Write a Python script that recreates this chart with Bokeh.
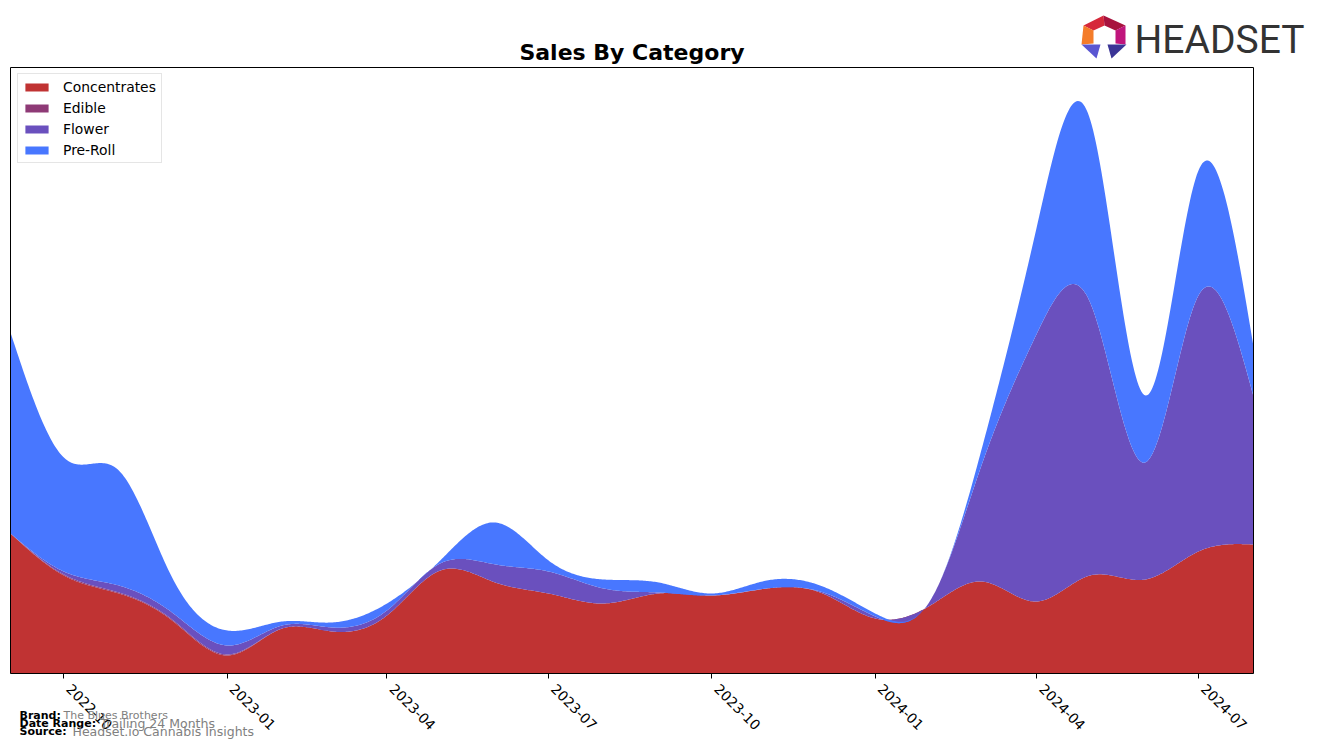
import numpy as np
import pandas as pd
from bokeh.plotting import figure
from bokeh.models import (ColumnDataSource, Range1d, Label, FixedTicker, Legend,
                          LegendItem, PolyAnnotation, LinearAxis)
from bokeh.embed import file_html
from bokeh.resources import INLINE

# ---------------- data (monthly) ----------------
months = ["2022-09", "2022-10", "2022-11", "2022-12", "2023-01", "2023-02",
          "2023-03", "2023-04", "2023-05", "2023-06", "2023-07", "2023-08",
          "2023-09", "2023-10", "2023-11", "2023-12", "2024-01", "2024-02",
          "2024-03", "2024-04", "2024-05", "2024-06", "2024-07", "2024-08"]
concentrates = [140, 98, 80, 53, 18, 45, 42, 58, 103, 91, 80, 70,
                80, 78, 85, 81, 55, 68, 92, 72, 98, 94, 122, 129]
edible = [0, 1, 1, 1, 1, 0, 0, 0, 0, 0, 0, 0,
          0, 0, 0, 0, 0, 0, 0, 0, 0, 0, 0, 0]
flower = [0, 3, 7, 7, 9, 3, 4, 5, 7, 18, 22, 15,
          1, 0, 0, 1, 2, 5, 117, 268, 273, 117, 256, 148]
pre_roll = [201, 114, 115, 35, 15, 4, 5, 7, 3, 42, 11, 9,
            10, 2, 8, 6, 3, 0, 16, 107, 183, 67, 125, 50]
categories = ["Concentrates", "Edible", "Flower", "Pre-Roll"]
colors = ["#c03333", "#8e3a76", "#6a50be", "#4877ff"]
tick_labels = ["2022-10", "2023-01", "2023-04", "2023-07",
               "2023-10", "2024-01", "2024-04", "2024-07"]

# ---------------- smoothing (natural cubic spline) ----------------
def spline(x, y, xs):
    x = np.asarray(x, float); y = np.asarray(y, float)
    n = len(x); h = np.diff(x)
    A = np.zeros((n, n)); b = np.zeros(n)
    A[0, 0] = 1.0
    A[-1, -1] = 1.0
    for i in range(1, n - 1):
        A[i, i - 1] = h[i - 1]; A[i, i] = 2 * (h[i - 1] + h[i]); A[i, i + 1] = h[i]
        b[i] = 6 * ((y[i + 1] - y[i]) / h[i] - (y[i] - y[i - 1]) / h[i - 1])
    M = np.linalg.solve(A, b)
    idx = np.clip(np.searchsorted(x, xs) - 1, 0, n - 2)
    x0 = x[idx]; x1 = x[idx + 1]; hh = x1 - x0
    return (M[idx] * (x1 - xs) ** 3 / (6 * hh) + M[idx + 1] * (xs - x0) ** 3 / (6 * hh)
            + (y[idx] / hh - M[idx] * hh / 6) * (x1 - xs)
            + (y[idx + 1] / hh - M[idx + 1] * hh / 6) * (xs - x0))

dates = pd.to_datetime([m + "-01" for m in months])
xms = dates.astype("int64").to_numpy() / 1e6
xdays = xms / 86400000.0
xs_days = np.linspace(xdays[0], xdays[-1], 900)
xs_ms = xs_days * 86400000.0

series = [concentrates, edible, flower, pre_roll]
smooth = [spline(xdays, s, xs_days) for s in series]
cum = np.cumsum(np.vstack(smooth), axis=0)
lower = [np.zeros_like(xs_days)] + [cum[i] for i in range(3)]

# ---------------- layout constants (page pixels) ----------------
W, H = 1317, 749
PL, PR, PT, PB = 10, 1253, 67, 673      # plot-area box
YTOP = 606.0                             # value at the top of the plot area
x0, x1 = xms[0], xms[-1]
kx = (PR - PL) / (x1 - x0)
ky = (PB - PT) / YTOP
LABEL_SHIFT = 5                          # px, tick labels sit right of their tick

p = figure(width=W, height=H, output_backend="svg", toolbar_location=None,
           x_axis_location=None, y_axis_location=None,
           x_range=Range1d(x0 - PL / kx, x1 + (W - PR) / kx),
           y_range=Range1d(-(H - PB) / ky, YTOP + PT / ky),
           min_border=0, min_border_left=0, min_border_right=0,
           min_border_top=0, min_border_bottom=0)
p.extra_x_ranges = {"lab": Range1d(x0 - (PL + LABEL_SHIFT) / kx,
                                   x1 + (W - PR - LABEL_SHIFT) / kx)}
p.grid.visible = False
p.outline_line_color = None
p.background_fill_color = "white"
p.border_fill_color = "white"

# areas
items = []
for i, name in enumerate(categories):
    src = ColumnDataSource(dict(x=xs_ms, y1=lower[i], y2=cum[i]))
    r = p.varea(x="x", y1="y1", y2="y2", source=src, fill_color=colors[i], fill_alpha=1.0)
    items.append(LegendItem(label=name, renderers=[r]))

# bottom axis: line + ticks (its labels are not drawn)
tick_ms = [pd.Timestamp(t + "-01").value / 1e6 for t in tick_labels]
xaxis = LinearAxis(ticker=FixedTicker(ticks=tick_ms), fixed_location=0,
                   bounds=(x0, x1))
xaxis.major_label_text_color = None
xaxis.major_label_text_alpha = 0
xaxis.minor_tick_line_color = None
xaxis.major_tick_out = 5
xaxis.major_tick_in = 0
xaxis.major_tick_line_color = "black"
xaxis.axis_line_color = "black"
p.add_layout(xaxis, "below")

# bottom axis: tick labels
laxis = LinearAxis(ticker=FixedTicker(ticks=tick_ms), fixed_location=0,
                   x_range_name="lab")
laxis.major_label_overrides = {t: l for t, l in zip(tick_ms, tick_labels)}
laxis.major_label_orientation = -np.pi / 4
laxis.major_label_text_font = "DejaVu Sans"
laxis.major_label_text_font_size = "13.9px"
laxis.major_label_text_color = "black"
laxis.major_label_standoff = 8
laxis.minor_tick_line_color = None
laxis.major_tick_line_color = None
laxis.major_tick_out = 5
laxis.major_tick_in = 0
laxis.axis_line_color = None
p.add_layout(laxis, "below")

def box_axis(side, loc, bounds):
    ax = LinearAxis(ticker=FixedTicker(ticks=[]), fixed_location=loc, bounds=bounds)
    ax.major_tick_line_color = None
    ax.minor_tick_line_color = None
    ax.major_label_text_color = None
    ax.axis_line_color = "black"
    p.add_layout(ax, side)

box_axis("above", YTOP, (x0, x1))
box_axis("left", x0, (0, YTOP))
box_axis("right", x1, (0, YTOP))

# legend
legend = Legend(items=items, location=(17, H - 163))
legend.margin = 0
legend.padding = 4
legend.spacing = 4
legend.glyph_width = 29
legend.glyph_height = 10
legend.label_height = 17
legend.label_width = 94
legend.label_standoff = 12
legend.label_text_font = "DejaVu Sans"
legend.label_text_font_size = "13.9px"
legend.label_text_color = "black"
legend.border_line_color = "#cccccc"
legend.border_line_width = 1
p.add_layout(legend, "center")

# texts in page pixels (Y = wanted baseline)
def lab(X, Y, text, size_px, color, style="normal", font="DejaVu Sans", align="left"):
    p.add_layout(Label(x=X, y=H - (Y - 0.38 * size_px), x_units="screen", y_units="screen",
                       text=text, text_font=font, text_font_size=f"{size_px}px",
                       text_align=align, text_baseline="alphabetic", text_color=color,
                       text_font_style=style))

lab((PL + PR) / 2, 60, "Sales By Category", 22, "black", "bold", align="center")

lab(19, 719, "Brand:", 11, "black", "bold")
lab(63, 719, "The Blues Brothers", 11, "#808080")
lab(19, 727, "Date Range:", 11, "black", "bold")
lab(100, 728, "Trailing 24 Months", 12.5, "#808080")
lab(19, 735, "Source:", 11, "black", "bold")
lab(72, 736, "Headset.io Cannabis Insights", 12.5, "#808080")

# logo
lab(1134, 54, "HEADSET", 39, "#333333", font="Roboto")

def poly(pts, color):
    p.add_layout(PolyAnnotation(xs=[x for x, _ in pts], ys=[H - y for _, y in pts],
                                xs_units="screen", ys_units="screen",
                                fill_color=color, fill_alpha=1.0, line_color=None))

poly([(1083, 25), (1103, 15), (1104, 25), (1093, 30)], "#d6283a")
poly([(1103, 15), (1125, 25), (1115, 30), (1104, 25)], "#a8123e")
poly([(1083, 25), (1093, 30), (1093, 43), (1081, 44)], "#f47c2a")
poly([(1125, 25), (1125, 44), (1115, 43), (1115, 30)], "#c0157c")
poly([(1081, 44), (1100, 44), (1096, 58)], "#5a56d2")
poly([(1107, 44), (1126, 44), (1111, 58)], "#3b3596")

out = file_html(p, INLINE)
open("out.html", "w").write(out)
